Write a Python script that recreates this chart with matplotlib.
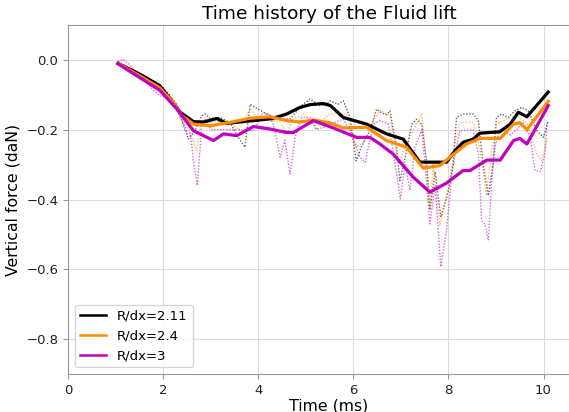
import matplotlib
matplotlib.use("Agg")
import matplotlib.pyplot as plt

# smoothed series (thick lines)
t_k = [1.05, 1.5, 1.93, 2.2, 2.36, 2.64, 2.85, 3.13, 3.34, 3.6, 4.04, 4.3, 4.6, 4.88, 5.1, 5.37,
       5.52, 5.79, 6.28, 6.7, 7.05, 7.4, 7.96, 8.14, 8.31, 8.52, 8.66, 9.08, 9.3, 9.47, 9.65, 10.1]
f_k = [-0.01, -0.04, -0.074, -0.12, -0.15, -0.177, -0.178, -0.168, -0.182, -0.178, -0.172, -0.168,
       -0.155, -0.136, -0.128, -0.125, -0.131, -0.165, -0.184, -0.212, -0.227, -0.293, -0.293, -0.26,
       -0.236, -0.227, -0.21, -0.206, -0.184, -0.15, -0.163, -0.092]

t_o = [1.05, 1.5, 1.93, 2.2, 2.4, 2.64, 2.99, 3.41, 3.83, 4.25, 4.6, 4.88, 5.16, 5.5, 5.79, 6.28,
       6.7, 7.12, 7.47, 7.82, 8.03, 8.38, 8.66, 9.09, 9.37, 9.5, 9.65, 10.1]
f_o = [-0.01, -0.045, -0.08, -0.12, -0.16, -0.184, -0.189, -0.179, -0.167, -0.163, -0.174, -0.178,
       -0.172, -0.18, -0.195, -0.193, -0.231, -0.25, -0.31, -0.303, -0.279, -0.241, -0.225, -0.225,
       -0.184, -0.18, -0.2, -0.119]

t_m = [1.05, 1.5, 1.93, 2.29, 2.64, 3.06, 3.27, 3.55, 3.9, 4.25, 4.6, 4.74, 5.16, 5.58, 6.07, 6.35,
       6.56, 6.84, 7.26, 7.61, 7.96, 8.31, 8.45, 8.81, 9.09, 9.37, 9.5, 9.65, 10.1]
f_m = [-0.011, -0.05, -0.087, -0.141, -0.203, -0.231, -0.212, -0.217, -0.191, -0.198, -0.208,
       -0.208, -0.174, -0.195, -0.222, -0.222, -0.241, -0.27, -0.336, -0.379, -0.353, -0.317, -0.317,
       -0.287, -0.287, -0.231, -0.225, -0.241, -0.131]

# raw series (dotted)
tr_k = [1.05, 1.5, 1.8, 1.93, 2.15, 2.46, 2.53, 2.67, 2.81, 2.88, 2.98, 3.2, 3.41, 3.58, 3.72, 3.83,
        4.0, 4.18, 4.39, 4.67, 4.91, 5.09, 5.3, 5.44, 5.51, 5.68, 5.79, 5.93, 6.06, 6.18, 6.35, 6.49,
        6.6, 6.7, 6.77, 6.91, 6.98, 7.09, 7.23, 7.33, 7.44, 7.54, 7.61, 7.72, 7.84, 8.0, 8.1, 8.17,
        8.31, 8.52, 8.63, 8.73, 8.84, 8.94, 9.01, 9.12, 9.26, 9.4, 9.54, 9.68, 9.86, 10.0, 10.1]
fr_k = [-0.005, -0.04, -0.06, -0.07, -0.103, -0.193, -0.227, -0.203, -0.16, -0.155, -0.167, -0.165,
        -0.18, -0.222, -0.25, -0.127, -0.141, -0.155, -0.169, -0.169, -0.131, -0.112, -0.131, -0.127,
        -0.117, -0.127, -0.117, -0.165, -0.289, -0.246, -0.203, -0.141, -0.152, -0.157, -0.146, -0.25,
        -0.346, -0.279, -0.184, -0.17, -0.184, -0.289, -0.43, -0.32, -0.45, -0.374, -0.298, -0.165,
        -0.155, -0.155, -0.174, -0.298, -0.389, -0.298, -0.165, -0.155, -0.165, -0.146, -0.136, -0.146,
        -0.203, -0.222, -0.174]

tr_o = [1.05, 1.5, 1.93, 2.2, 2.4, 2.55, 2.7, 2.8, 2.9, 3.0, 3.2, 3.41, 3.6, 3.83, 4.02, 4.3, 4.46,
        4.6, 4.74, 4.95, 5.1, 5.23, 5.37, 5.51, 5.86, 6.04, 6.2, 6.42, 6.56, 6.77, 6.95, 7.05, 7.26,
        7.44, 7.54, 7.61, 7.68, 7.82, 8.0, 8.14, 8.24, 8.52, 8.66, 8.8, 8.91, 9.01, 9.22, 9.43, 9.65,
        9.86, 9.96, 10.07]
fr_o = [-0.005, -0.045, -0.08, -0.115, -0.17, -0.2, -0.26, -0.175, -0.17, -0.18, -0.175, -0.18, -0.2,
        -0.14, -0.17, -0.175, -0.18, -0.21, -0.17, -0.155, -0.175, -0.2, -0.17, -0.155, -0.155, -0.25,
        -0.24, -0.174, -0.145, -0.16, -0.298, -0.26, -0.203, -0.155, -0.3, -0.43, -0.3, -0.475, -0.37,
        -0.24, -0.179, -0.179, -0.25, -0.389, -0.26, -0.184, -0.17, -0.16, -0.18, -0.27, -0.29, -0.23]

tr_m = [1.05, 1.16, 1.3, 1.55, 1.75, 1.93, 2.18, 2.29, 2.46, 2.57, 2.65, 2.72, 2.78, 2.81, 2.88, 3.0,
        3.2, 3.6, 3.9, 4.07, 4.25, 4.35, 4.46, 4.56, 4.67, 4.78, 4.91, 5.09, 5.23, 5.44, 5.51, 5.79,
        6.0, 6.14, 6.25, 6.42, 6.56, 6.74, 6.91, 6.99, 7.09, 7.19, 7.3, 7.44, 7.54, 7.61, 7.72, 7.84,
        7.96, 8.07, 8.17, 8.24, 8.52, 8.63, 8.7, 8.77, 8.84, 8.91, 8.98, 9.08, 9.3, 9.43, 9.57, 9.72,
        9.82, 9.93, 10.03, 10.08]
fr_m = [-0.005, 0.002, -0.015, -0.05, -0.08, -0.103, -0.108, -0.127, -0.203, -0.21, -0.3, -0.36,
        -0.25, -0.179, -0.17, -0.2, -0.2, -0.2, -0.203, -0.155, -0.155, -0.2, -0.279, -0.23, -0.327,
        -0.22, -0.165, -0.165, -0.2, -0.19, -0.184, -0.17, -0.222, -0.279, -0.293, -0.184, -0.174,
        -0.184, -0.327, -0.398, -0.3, -0.374, -0.25, -0.2, -0.35, -0.47, -0.36, -0.593, -0.49, -0.327,
        -0.25, -0.203, -0.2, -0.27, -0.46, -0.47, -0.517, -0.346, -0.25, -0.2, -0.215, -0.2, -0.18,
        -0.22, -0.317, -0.32, -0.27, -0.179]

labels = ["R/dx=2.11", "R/dx=2.4", "R/dx=3"]
colors = ["black", "darkorange", "m"]

fig = plt.figure(figsize=(5.69, 4.12), dpi=100)
ax = fig.add_axes([68 / 569, 38 / 412, 522 / 569, 349 / 412])

for t, f, c in zip([tr_k, tr_o, tr_m], [fr_k, fr_o, fr_m], colors):
    ax.plot(t, f, ls=(0, (1, 1.2)), lw=1.0, color=c, alpha=0.6)
for t, f, c, lab in zip([t_k, t_o, t_m], [f_k, f_o, f_m], colors, labels):
    ax.plot(t, f, lw=2.3, color=c, label=lab, solid_joinstyle="round")

ax.set_xlim(0, 522 / 47.55)
ax.set_ylim(-0.9, 0.1)
ax.set_xticks([0, 2, 4, 6, 8, 10])
ax.set_yticks([0.0, -0.2, -0.4, -0.6, -0.8])
ax.grid(True, color="#dddddd", lw=0.8)
for s in ax.spines.values():
    s.set_color("#999999")
ax.tick_params(colors="#999999", labelcolor="#222222", labelsize=9.5)

ax.set_title("Time history of the Fluid lift", fontsize=13.3, pad=4)
ax.set_xlabel("Time (ms)", fontsize=11.3, labelpad=1)
ax.set_ylabel("Vertical force (daN)", fontsize=11.3)

leg = ax.legend(loc="lower left", fontsize=9.5)
for line in leg.get_lines():
    line.set_linewidth(1.8)

fig.savefig("out.png", dpi=100)
